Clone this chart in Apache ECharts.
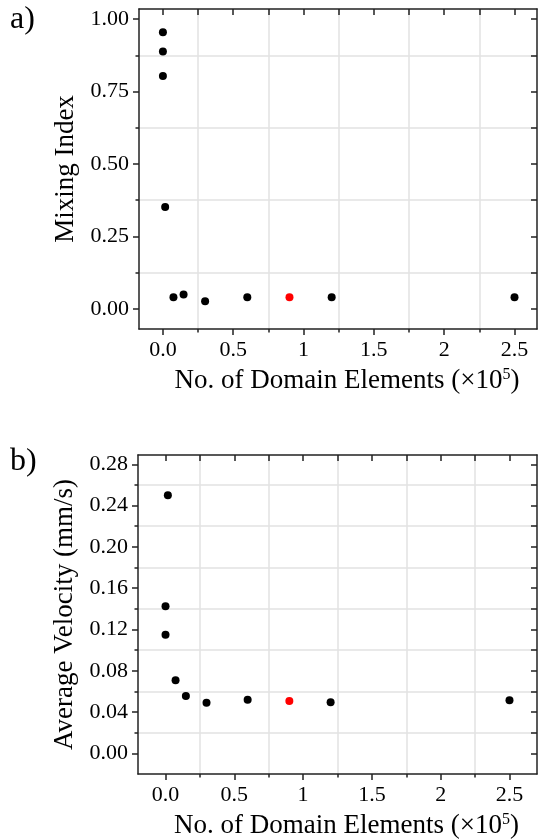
<!DOCTYPE html>
<html>
<head>
<meta charset="utf-8">
<script src="https://cdn.jsdelivr.net/npm/echarts@6/dist/echarts.min.js"></script>
<style>
  html, body { margin: 0; padding: 0; background: #fff; }
  #chart { width: 538px; height: 840px; }
</style>
</head>
<body>
<div id="chart"></div>
<script>
// ---- data ----
const mixX = [0.0, 0.0, 0.0, 0.016, 0.075, 0.147, 0.30, 0.60, 0.90, 1.20, 2.50];
const mixY = [0.955, 0.888, 0.804, 0.351, 0.040, 0.049, 0.026, 0.040, 0.040, 0.040, 0.040];
const mixHighlight = 8;

const velX = [0.017, 0.0, 0.0, 0.073, 0.148, 0.298, 0.597, 0.90, 1.20, 2.50];
const velY = [0.250, 0.1425, 0.115, 0.0708, 0.0556, 0.049, 0.052, 0.0508, 0.0495, 0.0515];
const velHighlight = 7;

const xTicks = [0, 0.5, 1, 1.5, 2, 2.5];
const xTickLabels = ['0.0', '0.5', '1', '1.5', '2', '2.5'];
const xMinor = [0.25, 0.75, 1.25, 1.75, 2.25];

const mixYTicks = [0, 0.25, 0.5, 0.75, 1.0];
const mixYTickLabels = ['0.00', '0.25', '0.50', '0.75', '1.00'];
const mixYMinor = [0.125, 0.375, 0.625, 0.875];

const velYTicks = [0, 0.04, 0.08, 0.12, 0.16, 0.20, 0.24, 0.28];
const velYTickLabels = ['0.00', '0.04', '0.08', '0.12', '0.16', '0.20', '0.24', '0.28'];
const velYMinor = [0.02, 0.06, 0.10, 0.14, 0.18, 0.22, 0.26];

const xTitle = 'No. of Domain Elements (×10{sup|5})';
const mixTitle = 'Mixing Index';
const velTitle = 'Average Velocity (mm/s)';

// ---- styling ----
const FONT = '"Liberation Serif", "Times New Roman", serif';
const AX = '#222';
const TXT = '#000';
const GRIDC = '#e2e2e2';

function labelFmt(ticks, labels) {
  return function (v) {
    for (let i = 0; i < ticks.length; i++) {
      if (Math.abs(ticks[i] - v) < 1e-9) return labels[i];
    }
    return '';
  };
}

function axisSet(dim, gridIndex, min, max, ticks, labels, minors, name, nameGap) {
  const main = dim === 'x' ? 'bottom' : 'left';
  const opp = dim === 'x' ? 'top' : 'right';
  const base = { type: 'value', gridIndex: gridIndex, min: min, max: max, scale: true };
  const line = { show: true, onZero: false, lineStyle: { color: AX, width: 1.5 } };
  const noLine = { show: false, onZero: false };
  return [
    Object.assign({}, base, {
      position: main,
      axisLine: line,
      axisTick: { show: true, inside: false, length: 6, customValues: ticks, lineStyle: { color: AX, width: 1.5 } },
      axisLabel: {
        show: true, customValues: ticks, formatter: labelFmt(ticks, labels),
        margin: 10, fontSize: 22, fontFamily: FONT, color: TXT
      },
      splitLine: { show: false },
      name: name, nameLocation: 'middle', nameGap: nameGap,
      nameTextStyle: {
        fontSize: 27, fontFamily: FONT, color: TXT,
        padding: dim === 'x' ? [0, 0, 0, 18] : 0,
        rich: { sup: { fontSize: 16, fontFamily: FONT, color: TXT, verticalAlign: 'top', padding: [0, 0, 10, 0] } }
      }
    }),
    Object.assign({}, base, {
      position: main,
      axisLine: noLine,
      axisTick: { show: true, inside: false, length: 3.5, customValues: minors, lineStyle: { color: AX, width: 1.5 } },
      axisLabel: { show: false },
      splitLine: { show: true, lineStyle: { color: GRIDC, width: 1.5 } }
    }),
    Object.assign({}, base, {
      position: opp,
      axisLine: line,
      axisTick: { show: true, inside: true, length: 6, customValues: ticks, lineStyle: { color: AX, width: 1.5 } },
      axisLabel: { show: false },
      splitLine: { show: false }
    }),
    Object.assign({}, base, {
      position: opp,
      axisLine: noLine,
      axisTick: { show: true, inside: true, length: 6, customValues: minors, lineStyle: { color: AX, width: 1.5 } },
      axisLabel: { show: false },
      splitLine: { show: false }
    })
  ];
}

function points(xs, ys, hi) {
  return xs.map(function (x, i) {
    const item = { value: [x, ys[i]] };
    if (i === hi) item.itemStyle = { color: '#ff0000', opacity: 1 };
    return item;
  });
}

const xAxes = [].concat(
  axisSet('x', 0, -0.17, 2.66, xTicks, xTickLabels, xMinor, xTitle, 38),
  axisSet('x', 1, -0.20, 2.70, xTicks, xTickLabels, xMinor, xTitle, 38)
);
const yAxes = [].concat(
  axisSet('y', 0, -0.07, 1.035, mixYTicks, mixYTickLabels, mixYMinor, mixTitle, 58),
  axisSet('y', 1, -0.02, 0.289, velYTicks, velYTickLabels, velYMinor, velTitle, 58)
);

const chart = echarts.init(document.getElementById('chart'), null, { renderer: 'canvas' });
chart.setOption({
  animation: false,
  backgroundColor: '#fff',
  grid: [
    { left: 139, top: 9, width: 398, height: 320, outerBoundsMode: 'none', containLabel: false },
    { left: 138, top: 455, width: 399, height: 319, outerBoundsMode: 'none', containLabel: false }
  ],
  xAxis: xAxes,
  yAxis: yAxes,
  graphic: [
    { type: 'text', left: 10, top: 4, style: { text: 'a)', fontSize: 32, fontFamily: FONT, fill: TXT } },
    { type: 'text', left: 10, top: 446, style: { text: 'b)', fontSize: 32, fontFamily: FONT, fill: TXT } }
  ],
  series: [
    {
      type: 'scatter', xAxisIndex: 0, yAxisIndex: 0, symbolSize: 8,
      itemStyle: { color: '#000', opacity: 1 }, data: points(mixX, mixY, mixHighlight)
    },
    {
      type: 'scatter', xAxisIndex: 4, yAxisIndex: 4, symbolSize: 8,
      itemStyle: { color: '#000', opacity: 1 }, data: points(velX, velY, velHighlight)
    }
  ]
});
</script>
</body>
</html>
